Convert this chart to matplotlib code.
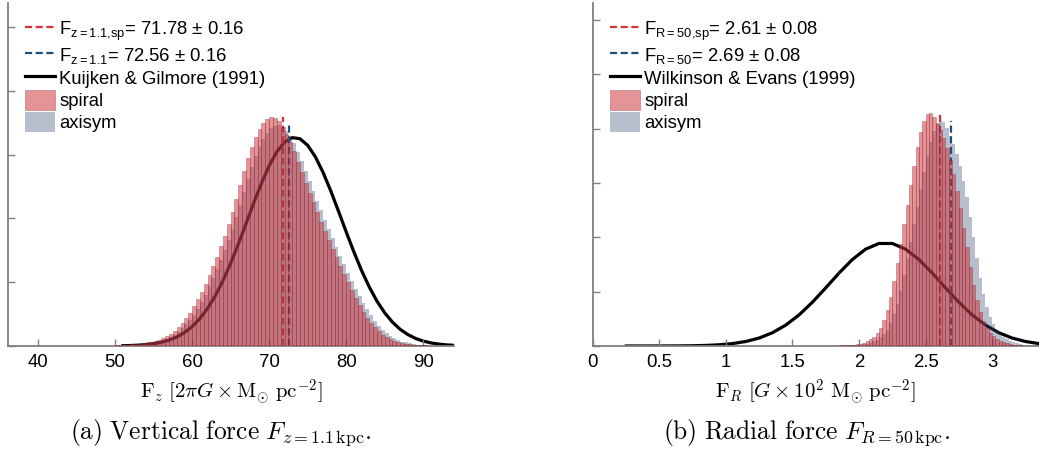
"""Vertical and radial force posteriors, spiral vs axisymmetric."""
import matplotlib
import numpy as np

matplotlib.use("Agg")
from matplotlib import pyplot as plt
from matplotlib.ticker import FormatStrFormatter, MultipleLocator

plt.rcParams["font.family"] = ["Liberation Sans", "DejaVu Sans"]
plt.rcParams["mathtext.fontset"] = "custom"
plt.rcParams["mathtext.rm"] = "Liberation Sans"
plt.rcParams["mathtext.it"] = "Liberation Sans:italic"
plt.rcParams["mathtext.default"] = "it"

# ---- panel (a): vertical force F_z at z = 1.1 kpc ----
fz_bin_start = 50.0
fz_bin_width = 0.5
fz_spiral = [
    0.0002, 0.0002, 0.0003, 0.0004, 0.0005, 0.0006, 0.0007, 0.0009, 0.0011, 0.0013,
    0.0016, 0.0020, 0.0024, 0.0030, 0.0038, 0.0048, 0.0060, 0.0073, 0.0088, 0.0105,
    0.0125, 0.0147, 0.0170, 0.0195, 0.0222, 0.0250, 0.0280, 0.0312, 0.0345, 0.0382,
    0.0420, 0.0462, 0.0505, 0.0548, 0.0590, 0.0625, 0.0655, 0.0680, 0.0700, 0.0712,
    0.0718, 0.0714, 0.0705, 0.0688, 0.0665, 0.0638, 0.0610, 0.0578, 0.0545, 0.0512,
    0.0480, 0.0450, 0.0420, 0.0390, 0.0360, 0.0332, 0.0305, 0.0278, 0.0252, 0.0226,
    0.0200, 0.0175, 0.0150, 0.0128, 0.0108, 0.0089, 0.0072, 0.0058, 0.0046, 0.0036,
    0.0028, 0.0021, 0.0016, 0.0012, 0.0009, 0.0007, 0.0005, 0.0004, 0.0003, 0.0002,
    0.0002, 0.0001, 0.0001, 0.0001,
]
fz_axisym = [
    0.0001, 0.0001, 0.0002, 0.0002, 0.0003, 0.0004, 0.0005, 0.0006, 0.0008, 0.0010,
    0.0012, 0.0015, 0.0018, 0.0023, 0.0028, 0.0036, 0.0045, 0.0056, 0.0068, 0.0082,
    0.0098, 0.0117, 0.0138, 0.0160, 0.0185, 0.0212, 0.0240, 0.0270, 0.0300, 0.0333,
    0.0368, 0.0404, 0.0442, 0.0482, 0.0522, 0.0560, 0.0595, 0.0625, 0.0650, 0.0668,
    0.0682, 0.0689, 0.0692, 0.0686, 0.0675, 0.0657, 0.0635, 0.0609, 0.0580, 0.0549,
    0.0518, 0.0487, 0.0455, 0.0425, 0.0395, 0.0366, 0.0338, 0.0310, 0.0283, 0.0256,
    0.0230, 0.0205, 0.0180, 0.0157, 0.0135, 0.0115, 0.0096, 0.0079, 0.0064, 0.0051,
    0.0040, 0.0031, 0.0024, 0.0018, 0.0014, 0.0011, 0.0008, 0.0006, 0.0004, 0.0003,
    0.0002, 0.0002, 0.0001, 0.0001,
]
fz_kg_x = [
    51, 52, 53, 54, 55, 56, 57, 58, 59, 60, 61, 62, 63, 64, 65, 66, 67, 68, 69, 70, 71, 72,
    73, 74, 75, 76, 77, 78, 79, 80, 81, 82, 83, 84, 85, 86, 87, 88, 89, 90, 91, 92, 93, 94,
]
fz_kg_y = [
    0.00008, 0.00015, 0.00026, 0.00044, 0.00073, 0.00117, 0.00184, 0.00282, 0.00419,
    0.00607, 0.00857, 0.01176, 0.01572, 0.02046, 0.02592, 0.03196, 0.03836, 0.04484,
    0.05101, 0.05650, 0.06091, 0.06393, 0.06532, 0.06497, 0.06291, 0.05930, 0.05441,
    0.04860, 0.04226, 0.03577, 0.02948, 0.02365, 0.01848, 0.01404, 0.01039, 0.00749,
    0.00525, 0.00359, 0.00238, 0.00154, 0.00097, 0.00060, 0.00036, 0.00021,
]
fz_mean_spiral, fz_err_spiral = 71.78, 0.16
fz_mean_axisym, fz_err_axisym = 72.56, 0.16

# ---- panel (b): radial force F_R at R = 50 kpc ----
fr_bin_start = 1.8
fr_bin_width = 0.025
fr_spiral = [
    0.003, 0.004, 0.005, 0.006, 0.008, 0.010, 0.013, 0.017, 0.022, 0.030,
    0.042, 0.060, 0.085, 0.12, 0.17, 0.24, 0.33, 0.45, 0.60, 0.76,
    0.94, 1.12, 1.30, 1.48, 1.66, 1.83, 1.97, 2.07, 2.13, 2.14,
    2.11, 2.05, 1.99, 1.91, 1.82, 1.71, 1.58, 1.43, 1.27, 1.09,
    0.91, 0.73, 0.56, 0.42, 0.31, 0.23, 0.17, 0.12, 0.09, 0.065,
    0.047, 0.034, 0.024, 0.017, 0.012, 0.008, 0.005, 0.003, 0.002, 0.001,
    0.001, 0.0,
]
fr_axisym = [
    0.002, 0.002, 0.003, 0.004, 0.005, 0.006, 0.008, 0.010, 0.013, 0.017,
    0.022, 0.030, 0.042, 0.058, 0.080, 0.11, 0.15, 0.21, 0.29, 0.39,
    0.51, 0.65, 0.80, 0.96, 1.12, 1.28, 1.44, 1.60, 1.75, 1.88,
    1.98, 2.04, 2.07, 2.06, 2.01, 1.93, 1.86, 1.77, 1.66, 1.52,
    1.37, 1.19, 1.00, 0.81, 0.63, 0.48, 0.36, 0.27, 0.20, 0.15,
    0.11, 0.08, 0.06, 0.045, 0.033, 0.024, 0.017, 0.012, 0.008, 0.005,
    0.003, 0.002,
]
fr_we_x = [
    0.25, 0.35, 0.45, 0.55, 0.65, 0.75, 0.85, 0.95, 1.05, 1.15, 1.25, 1.35, 1.45, 1.55,
    1.65, 1.75, 1.85, 1.95, 2.05, 2.15, 2.25, 2.35, 2.45, 2.55, 2.65, 2.75, 2.85, 2.95,
    3.05, 3.15, 3.25, 3.35, 3.45,
]
fr_we_y = [
    0.00002, 0.00006, 0.00016, 0.00042, 0.00105, 0.00245, 0.0054, 0.0113, 0.0224, 0.0417,
    0.0736, 0.1226, 0.1929, 0.2868, 0.4031, 0.5351, 0.6714, 0.7957, 0.8913, 0.9433,
    0.9433, 0.8913, 0.7957, 0.6714, 0.5351, 0.4031, 0.2868, 0.1929, 0.1226, 0.0736,
    0.0417, 0.0224, 0.0113,
]
fr_mean_spiral, fr_err_spiral = 2.61, 0.08
fr_mean_axisym, fr_err_axisym = 2.69, 0.08

SPIRAL_FACE = (0.80, 0.20, 0.22, 0.52)
SPIRAL_EDGE = (0.55, 0.10, 0.18, 0.45)
AXISYM_FACE = (0.20, 0.29, 0.44, 0.35)
RED_LINE = "#d6323c"
BLUE_LINE = "#1f4e79"
SPINE = "#7f7f7f"


def draw_panel(ax, bin_start, bin_width, spiral, axisym, model_x, model_y,
               mean_sp, err_sp, mean_ax, err_ax, sub_sp, sub_ax, model_label):
    edges = bin_start + bin_width * np.arange(len(spiral))
    ax.plot(model_x, model_y, color="black", linewidth=2.3, zorder=1, label=model_label)
    ax.vlines(mean_sp, 0, max(spiral), color=RED_LINE, linewidth=1.6,
              linestyles=(0, (3.2, 1.6)), zorder=1,
              label=rf"F$_{{\mathrm{{{sub_sp}}}}}$= {mean_sp:.2f} ± {err_sp:.2f}")
    ax.vlines(mean_ax, 0, max(axisym), color=BLUE_LINE, linewidth=1.6,
              linestyles=(0, (3.2, 1.6)), zorder=1,
              label=rf"F$_{{\mathrm{{{sub_ax}}}}}$= {mean_ax:.2f} ± {err_ax:.2f}")
    ax.bar(edges, axisym, width=bin_width, align="edge", color=AXISYM_FACE,
           linewidth=0, zorder=2, label="axisym")
    ax.bar(edges, spiral, width=bin_width, align="edge", facecolor=SPIRAL_FACE,
           edgecolor=SPIRAL_EDGE, linewidth=0.5, zorder=3, label="spiral")

    handles, labels = ax.get_legend_handles_labels()
    order = [1, 2, 0, 4, 3]
    ax.legend([handles[i] for i in order], [labels[i] for i in order],
              loc="upper left", bbox_to_anchor=(0.038, 0.955), borderaxespad=0,
              borderpad=0, frameon=False, fontsize=13.3, handlelength=1.65,
              handleheight=1.3, handletextpad=0.2, labelspacing=0.1)

    for side in ("top", "right"):
        ax.spines[side].set_visible(False)
    for side in ("left", "bottom"):
        ax.spines[side].set_color(SPINE)
        ax.spines[side].set_linewidth(1.3)
    ax.tick_params(direction="in", length=5, width=1.0, color=SPINE,
                   labelsize=13.4, pad=6)
    ax.tick_params(axis="y", labelleft=False)


fig = plt.figure(figsize=(10.39, 4.53), dpi=100)
ax_a = fig.add_axes([0.0077, 0.2362, 0.4293, 0.757])
ax_b = fig.add_axes([0.5707, 0.2362, 0.4293, 0.757])

draw_panel(ax_a, fz_bin_start, fz_bin_width, fz_spiral, fz_axisym, fz_kg_x, fz_kg_y,
           fz_mean_spiral, fz_err_spiral, fz_mean_axisym, fz_err_axisym,
           "z=1.1{,}sp", "z=1.1", "Kuijken & Gilmore (1991)")
ax_a.set_xlim(36.1, 94.0)
ax_a.set_ylim(0, 0.1075)
ax_a.xaxis.set_major_locator(MultipleLocator(10))
ax_a.yaxis.set_major_locator(MultipleLocator(0.02))
ax_a.set_xlabel(r"$\mathrm{F}_z\ [2\pi G \times \mathrm{M}_{\odot}\ \mathrm{pc}^{-2}]$",
                math_fontfamily="cm", fontsize=15, labelpad=4)

draw_panel(ax_b, fr_bin_start, fr_bin_width, fr_spiral, fr_axisym, fr_we_x, fr_we_y,
           fr_mean_spiral, fr_err_spiral, fr_mean_axisym, fr_err_axisym,
           "R=50{,}sp", "R=50", "Wilkinson & Evans (1999)")
ax_b.set_xlim(0, 3.353)
ax_b.set_ylim(0, 3.155)
ax_b.xaxis.set_major_locator(MultipleLocator(0.5))
ax_b.xaxis.set_major_formatter(FormatStrFormatter("%g"))
ax_b.yaxis.set_major_locator(MultipleLocator(0.5))
ax_b.set_xlabel(r"$\mathrm{F}_R\ [G \times 10^2\ \mathrm{M}_{\odot}\ \mathrm{pc}^{-2}]$",
                math_fontfamily="cm", fontsize=15, labelpad=4)

fig.text(0.212, 0.045, r"$\mathrm{(a)\ Vertical\ force}\ F_{z=1.1\,\mathrm{kpc}}.$",
         math_fontfamily="cm", fontsize=18.3, ha="center", va="center")
fig.text(0.776, 0.045, r"$\mathrm{(b)\ Radial\ force}\ F_{R=50\,\mathrm{kpc}}.$",
         math_fontfamily="cm", fontsize=18.3, ha="center", va="center")

fig.savefig("out.png", dpi=100)
plt.close(fig)
